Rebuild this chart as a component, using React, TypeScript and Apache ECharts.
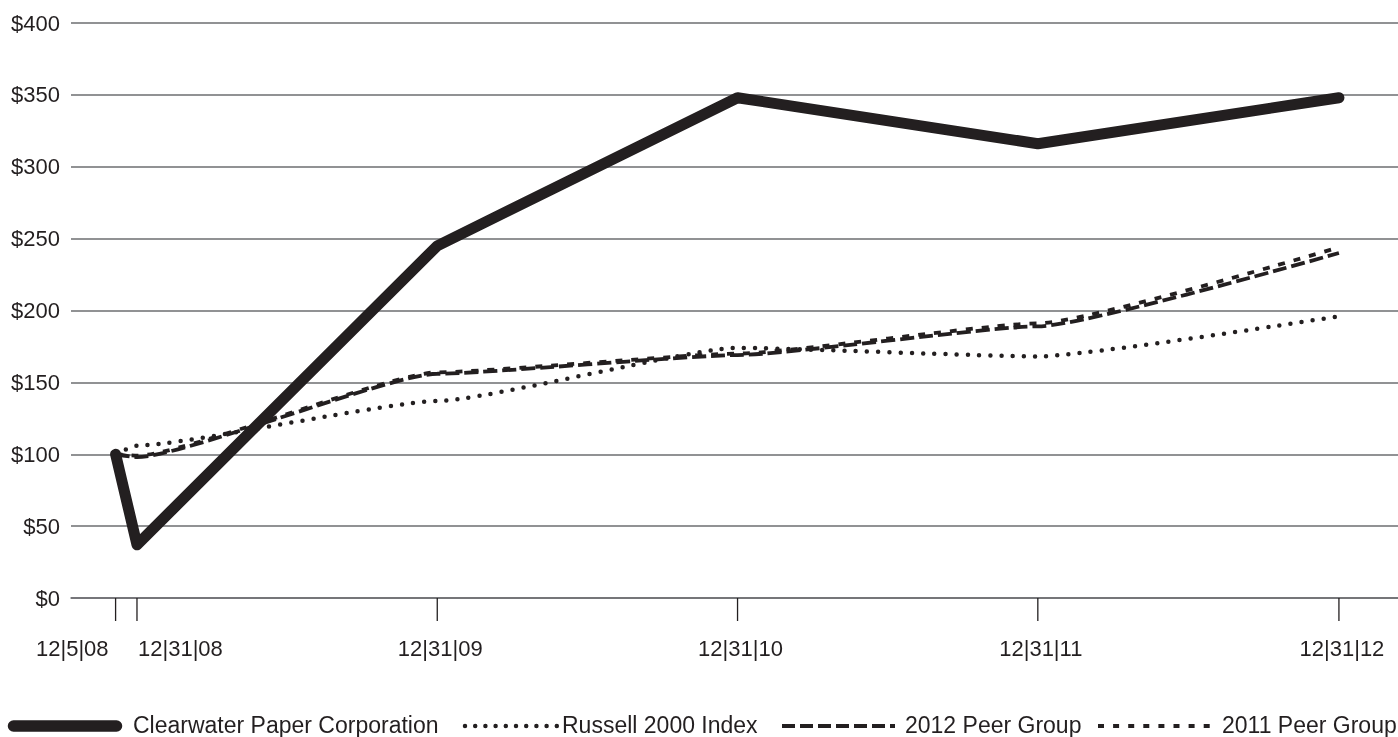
import React, { useEffect, useRef } from "react";
import * as echarts from "echarts";

const dates = ["2008-12-05", "2008-12-31", "2009-12-31", "2010-12-31", "2011-12-31", "2012-12-31"];
const dateLabels = ["12|5|08", "12|31|08", "12|31|09", "12|31|10", "12|31|11", "12|31|12"];
const clearwater = [100, 37, 245, 348, 316, 348];
const russell2000 = [100, 106, 137, 174, 168, 196];
const peer2012 = [100, 98, 156, 169, 189, 240];
const peer2011 = [100, 99, 157, 170, 191, 244];
const seriesNames = ["Clearwater Paper Corporation", "Russell 2000 Index", "2012 Peer Group", "2011 Peer Group"];
const yTicks = [0, 50, 100, 150, 200, 250, 300, 350, 400];

const DAY = 86400000;
const base = Date.UTC(2008, 11, 5);
const toDay = (s: string) => {
  const [y, m, d] = s.split("-").map(Number);
  return (Date.UTC(y, m - 1, d) - base) / DAY;
};
const xs = dates.map(toDay);

const INK = "#231f20";
const GRID = "#6d6e71";
const FONT = "'Liberation Sans', Arial, sans-serif";
const FS = 22;
const LFS = 23;

export default function App() {
  const ref = useRef<HTMLDivElement>(null);
  useEffect(() => {
    if (!ref.current) return;
    const chart = echarts.init(ref.current, undefined, { renderer: "svg" });
    const pair = (vals: number[]) => vals.map((v, i) => [xs[i], v]);
    const legendY = 725;
    const legendText = (x: number, t: string) => ({
      type: "text",
      x,
      y: legendY,
      style: { text: t, fill: INK, font: `${LFS}px ${FONT}`, verticalAlign: "middle", align: "left" },
    });
    const legendLine = (x1: number, x2: number, width: number, dash: any, cap: string) => ({
      type: "line",
      shape: { x1, y1: legendY + 1, x2, y2: legendY + 1 },
      style: { stroke: INK, lineWidth: width, lineDash: dash, lineCap: cap },
    });
    chart.setOption({
      animation: false,
      grid: { left: 71, right: 0, top: 23, bottom: 139, containLabel: false },
      xAxis: {
        type: "value",
        min: -54.2,
        max: 1558.8,
        axisLine: { show: true, lineStyle: { color: GRID, width: 1.5 } },
        axisTick: { show: false },
        axisLabel: { show: false },
        splitLine: { show: false },
      },
      yAxis: {
        type: "value",
        min: yTicks[0],
        max: yTicks[yTicks.length - 1],
        interval: 50,
        axisLine: { show: false },
        axisTick: { show: false },
        axisLabel: {
          formatter: (v: number) => "$" + v,
          color: INK,
          fontSize: FS,
          fontFamily: FONT,
          margin: 11,
        },
        splitLine: { show: true, lineStyle: { color: GRID, width: 1.5 } },
      },
      series: [
        {
          type: "custom",
          silent: true,
          clip: false,
          data: xs.map((x, i) => [x, 0, i]),
          encode: { x: 0, y: 1 },
          renderItem: (params: any, api: any) => {
            const p = api.coord([api.value(0), 0]);
            const i = api.value(2);
            const align = i === 0 ? "right" : i === 1 ? "left" : "center";
            const dx = i === 0 ? -7 : i === 1 ? 1 : 3;
            return {
              type: "group",
              children: [
                {
                  type: "line",
                  shape: { x1: p[0], y1: p[1], x2: p[0], y2: p[1] + 23 },
                  style: { stroke: INK, lineWidth: 1.3 },
                },
                {
                  type: "text",
                  x: p[0] + dx,
                  y: p[1] + 50,
                  style: {
                    text: dateLabels[i],
                    fill: INK,
                    font: `${FS}px ${FONT}`,
                    align,
                    verticalAlign: "middle",
                  },
                },
              ],
            };
          },
        },
        {
          name: seriesNames[1],
          type: "line",
          data: pair(russell2000),
          showSymbol: false,
          smooth: 0.15,
          smoothMonotone: "x",
          lineStyle: { color: INK, width: 4.5, type: [0, 11.2], cap: "round" },
        },
        {
          name: seriesNames[2],
          type: "line",
          data: pair(peer2012),
          showSymbol: false,
          smooth: 0.15,
          smoothMonotone: "x",
          lineStyle: { color: INK, width: 3.8, type: [14, 5], cap: "butt" },
        },
        {
          name: seriesNames[3],
          type: "line",
          data: pair(peer2011),
          showSymbol: false,
          smooth: 0.15,
          smoothMonotone: "x",
          lineStyle: { color: INK, width: 3.8, type: [7, 9], cap: "butt" },
        },
        {
          name: seriesNames[0],
          type: "line",
          data: pair(clearwater),
          showSymbol: false,
          z: 5,
          lineStyle: { color: INK, width: 11, cap: "round", join: "round" },
        },
      ],
      graphic: [
        legendLine(13.5, 116.5, 11.5, null, "round"),
        legendText(133, seriesNames[0]),
        legendLine(465, 557, 4.5, [0, 10.2], "round"),
        legendText(562, seriesNames[1]),
        legendLine(782, 895, 3.8, [13, 5], "butt"),
        legendText(905, seriesNames[2]),
        legendLine(1098, 1210, 3.8, [6, 9.1], "butt"),
        legendText(1222, seriesNames[3]),
      ],
    });
    return () => chart.dispose();
  }, []);
  return (
    <div
      ref={ref}
      style={{ position: "fixed", left: 0, top: 0, width: 1398, height: 737 }}
    />
  );
}
